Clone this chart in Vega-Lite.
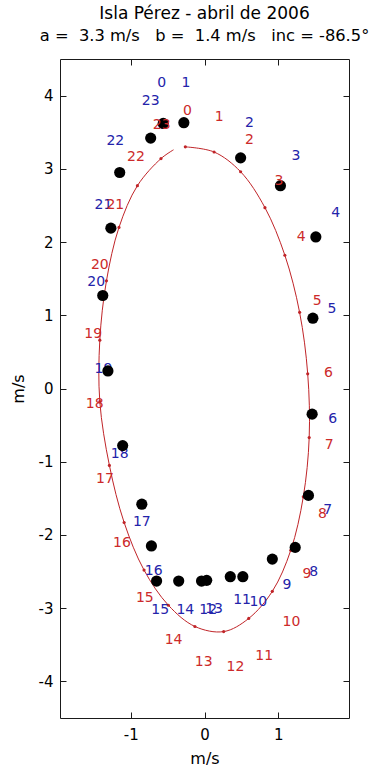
{
  "$schema": "https://vega.github.io/schema/vega-lite/v6.json",
  "width": 289,
  "height": 659,
  "autosize": {"type": "none"},
  "padding": {"left": 60, "top": 59, "right": 26, "bottom": 51},
  "title": {
    "text": "Isla Pérez - abril de 2006",
    "subtitle": "a =\u00a0\u00a03.3 m/s\u00a0\u00a0\u00a0b =\u00a0\u00a01.4 m/s\u00a0\u00a0\u00a0inc = -86.5°",
    "frame": "group",
    "anchor": "middle",
    "font": "DejaVu Sans",
    "fontSize": 17,
    "fontWeight": "normal",
    "color": "#000000",
    "subtitleFont": "DejaVu Sans",
    "subtitleFontSize": 16.3,
    "subtitleColor": "#000000",
    "offset": 13,
    "subtitlePadding": 5
  },
  "config": {
    "view": {"stroke": "#1a1a1a", "strokeWidth": 1},
    "axis": {
      "domain": false,
      "grid": false,
      "ticks": true,
      "tickSize": -6,
      "tickColor": "#1a1a1a",
      "labelFont": "DejaVu Sans",
      "labelFontSize": 15,
      "labelColor": "#000000",
      "titleFont": "DejaVu Sans",
      "titleFontSize": 16,
      "titleFontWeight": "normal",
      "titleColor": "#000000"
    }
  },
  "datasets": {
    "dots": [
      {"h": 0, "x": -0.56, "y": 3.62, "lx": -0.58, "ly": 4.17},
      {"h": 1, "x": -0.28, "y": 3.63, "lx": -0.25, "ly": 4.17},
      {"h": 2, "x": 0.49, "y": 3.15, "lx": 0.61, "ly": 3.62},
      {"h": 3, "x": 1.03, "y": 2.77, "lx": 1.24, "ly": 3.18},
      {"h": 4, "x": 1.51, "y": 2.07, "lx": 1.78, "ly": 2.39},
      {"h": 5, "x": 1.47, "y": 0.96, "lx": 1.73, "ly": 1.09},
      {"h": 6, "x": 1.46, "y": -0.35, "lx": 1.74, "ly": -0.41},
      {"h": 7, "x": 1.41, "y": -1.46, "lx": 1.67, "ly": -1.66},
      {"h": 8, "x": 1.23, "y": -2.17, "lx": 1.48, "ly": -2.51},
      {"h": 9, "x": 0.92, "y": -2.33, "lx": 1.12, "ly": -2.68},
      {"h": 10, "x": 0.52, "y": -2.57, "lx": 0.73, "ly": -2.92},
      {"h": 11, "x": 0.35, "y": -2.57, "lx": 0.51, "ly": -2.89},
      {"h": 12, "x": -0.04, "y": -2.63, "lx": 0.05, "ly": -3.02},
      {"h": 13, "x": 0.03, "y": -2.62, "lx": 0.13, "ly": -3.01},
      {"h": 14, "x": -0.35, "y": -2.63, "lx": -0.26, "ly": -3.03},
      {"h": 15, "x": -0.65, "y": -2.63, "lx": -0.60, "ly": -3.02},
      {"h": 16, "x": -0.72, "y": -2.15, "lx": -0.69, "ly": -2.49},
      {"h": 17, "x": -0.85, "y": -1.58, "lx": -0.85, "ly": -1.83},
      {"h": 18, "x": -1.11, "y": -0.78, "lx": -1.15, "ly": -0.90},
      {"h": 19, "x": -1.31, "y": 0.24, "lx": -1.37, "ly": 0.26},
      {"h": 20, "x": -1.38, "y": 1.27, "lx": -1.47, "ly": 1.45},
      {"h": 21, "x": -1.27, "y": 2.19, "lx": -1.37, "ly": 2.51},
      {"h": 22, "x": -1.15, "y": 2.95, "lx": -1.21, "ly": 3.38},
      {"h": 23, "x": -0.73, "y": 3.42, "lx": -0.73, "ly": 3.92}
    ],
    "curve": [
      {"h": 0, "x": -0.26, "y": 3.30, "lx": -0.23, "ly": 3.79, "mark": "m"},
      {"h": 1, "x": 0.13, "y": 3.23, "lx": 0.20, "ly": 3.71, "mark": "m"},
      {"h": 2, "x": 0.49, "y": 2.96, "lx": 0.61, "ly": 3.39, "mark": "m"},
      {"h": 3, "x": 0.82, "y": 2.47, "lx": 1.01, "ly": 2.83, "mark": "m"},
      {"h": 4, "x": 1.09, "y": 1.82, "lx": 1.31, "ly": 2.07, "mark": "m"},
      {"h": 5, "x": 1.29, "y": 1.04, "lx": 1.53, "ly": 1.20, "mark": "m"},
      {"h": 6, "x": 1.40, "y": 0.20, "lx": 1.68, "ly": 0.21, "mark": "m"},
      {"h": 7, "x": 1.42, "y": -0.67, "lx": 1.69, "ly": -0.77, "mark": "m"},
      {"h": 8, "x": 1.34, "y": -1.48, "lx": 1.60, "ly": -1.71, "mark": "m"},
      {"h": 9, "x": 1.17, "y": -2.21, "lx": 1.39, "ly": -2.53, "mark": "m"},
      {"h": 10, "x": 0.92, "y": -2.77, "lx": 1.18, "ly": -3.19, "mark": "m"},
      {"h": 11, "x": 0.60, "y": -3.14, "lx": 0.81, "ly": -3.65, "mark": "m"},
      {"h": 12, "x": 0.26, "y": -3.32, "lx": 0.42, "ly": -3.81, "mark": "m"},
      {"h": 13, "x": -0.13, "y": -3.25, "lx": -0.01, "ly": -3.74, "mark": "m"},
      {"h": 14, "x": -0.49, "y": -2.96, "lx": -0.42, "ly": -3.43, "mark": "m"},
      {"h": 15, "x": -0.82, "y": -2.48, "lx": -0.81, "ly": -2.86, "mark": "m"},
      {"h": 16, "x": -1.09, "y": -1.83, "lx": -1.12, "ly": -2.11, "mark": "m"},
      {"h": 17, "x": -1.29, "y": -1.05, "lx": -1.35, "ly": -1.23, "mark": "m"},
      {"h": 18, "x": -1.42, "y": -0.18, "lx": -1.49, "ly": -0.21, "mark": "m"},
      {"h": 19, "x": -1.42, "y": 0.66, "lx": -1.51, "ly": 0.74, "mark": "m"},
      {"h": 20, "x": -1.33, "y": 1.47, "lx": -1.42, "ly": 1.69, "mark": "m"},
      {"h": 21, "x": -1.16, "y": 2.20, "lx": -1.21, "ly": 2.51, "mark": "m"},
      {"h": 22, "x": -0.91, "y": 2.77, "lx": -0.93, "ly": 3.16, "mark": "m"},
      {"h": 23, "x": -0.59, "y": 3.14, "lx": -0.58, "ly": 3.60, "mark": "m"},
      {"h": 23.5, "x": -0.42, "y": 3.26, "mark": "end"}
    ]
  },
  "layer": [
    {
      "mark": {"type": "rule", "color": "#8c8c8c", "strokeWidth": 1},
      "encoding": {"x": {"datum": 0, "type": "quantitative", "axis": null}}
    },
    {
      "mark": {"type": "rule", "color": "#6a6a6a", "strokeWidth": 1},
      "encoding": {"y": {"datum": 0, "type": "quantitative", "axis": null}}
    },
    {
      "data": {"name": "curve"},
      "mark": {"type": "line", "color": "#c02428", "strokeWidth": 1, "interpolate": "catmull-rom"},
      "encoding": {
        "x": {"field": "x", "type": "quantitative", "axis": {"orient": "top", "values": [-1, 0, 1], "labels": false, "title": null}},
        "y": {"field": "y", "type": "quantitative", "axis": {"orient": "right", "values": [-4, -3, -2, -1, 0, 1, 2, 3, 4], "labels": false, "title": null}},
        "order": {"field": "h", "type": "quantitative"}
      }
    },
    {
      "data": {"name": "curve"},
      "transform": [{"filter": {"field": "mark", "equal": "m"}}],
      "mark": {"type": "point", "filled": true, "shape": "circle", "color": "#c02428", "opacity": 1, "size": 10},
      "encoding": {
        "x": {"field": "x", "type": "quantitative", "axis": null},
        "y": {"field": "y", "type": "quantitative", "axis": null}
      }
    },
    {
      "data": {"name": "dots"},
      "mark": {"type": "text", "color": "#2323aa", "font": "DejaVu Sans", "fontSize": 14, "align": "center", "baseline": "middle"},
      "encoding": {
        "x": {"field": "lx", "type": "quantitative", "axis": null},
        "y": {"field": "ly", "type": "quantitative", "axis": null},
        "text": {"field": "h", "type": "quantitative"}
      }
    },
    {
      "data": {"name": "dots"},
      "mark": {"type": "point", "filled": true, "shape": "circle", "color": "#000000", "opacity": 1, "size": 125},
      "encoding": {
        "x": {
          "field": "x", "type": "quantitative",
          "scale": {"domain": [-1.96, 1.96], "nice": false, "zero": false},
          "axis": {"orient": "bottom", "values": [-1, 0, 1], "title": "m/s", "labelPadding": 15, "titlePadding": 8,
                   "labelExpr": "datum.value < 0 ? '-' + abs(datum.value) : '' + datum.value"}
        },
        "y": {
          "field": "y", "type": "quantitative",
          "scale": {"domain": [-4.5, 4.5], "nice": false, "zero": false},
          "axis": {"orient": "left", "values": [-4, -3, -2, -1, 0, 1, 2, 3, 4], "title": "m/s", "labelPadding": 13, "titlePadding": 12,
                   "labelExpr": "datum.value < 0 ? '-' + abs(datum.value) : '' + datum.value"}
        }
      }
    },
    {
      "data": {"name": "curve"},
      "transform": [{"filter": {"field": "mark", "equal": "m"}}],
      "mark": {"type": "text", "color": "#cc2a2a", "font": "DejaVu Sans", "fontSize": 14, "align": "center", "baseline": "middle"},
      "encoding": {
        "x": {"field": "lx", "type": "quantitative", "axis": null},
        "y": {"field": "ly", "type": "quantitative", "axis": null},
        "text": {"field": "h", "type": "quantitative"}
      }
    }
  ]
}
